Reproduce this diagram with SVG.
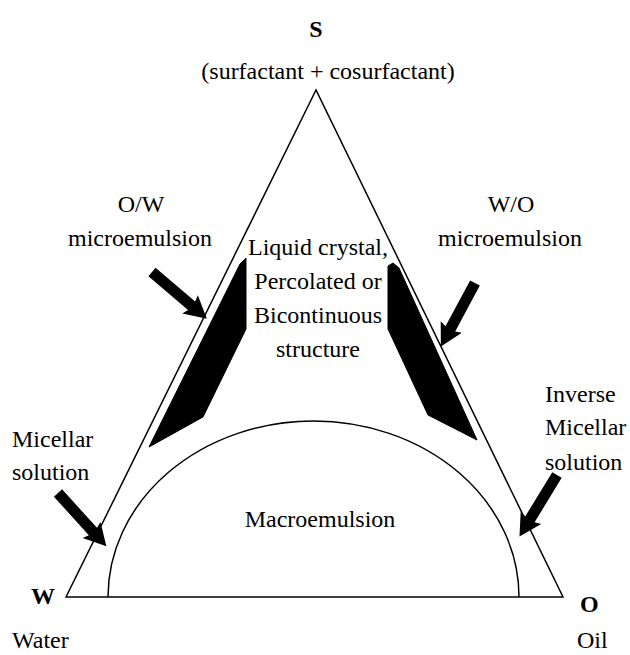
<svg xmlns="http://www.w3.org/2000/svg" xmlns:xlink="http://www.w3.org/1999/xlink" width="630" height="655" viewBox="0 0 630 655">
  <style>
    text { font-family: "Liberation Serif", "Times New Roman", serif; font-size: 24px; fill: #000; }
    .c { text-anchor: middle; }
    .b { font-weight: bold; }
    .ln { fill: none; stroke: #000; stroke-width: 1.5; }
    .blk { fill: #000; stroke: #000; stroke-width: 1; stroke-linejoin: round; }
  </style>
  <defs>
    <path id="arrow" d="M0,-5.5 L52,-5.5 L50,-12 L72,0 L50,12 L52,5.5 L0,5.5 Z" fill="#000"/>
  </defs>
  <rect width="630" height="655" fill="#fff"/>

  <g id="diagram">
    <path id="triangle" class="ln" d="M316,90 L66,597 L563,597 Z"/>
    <path id="macroemulsion-boundary" class="ln" stroke-width="1.3" d="M108,597 A205.5,176 0 0 1 519,597"/>
    <polygon id="ow-region" class="blk" points="240,264 246,258 246,329 203,417 149,447"/>
    <polygon id="wo-region" class="blk" points="393,263 399,268 477,440 428,415 388,329 388,266"/>
  </g>

  <g id="node-S">
    <text class="c b" x="316" y="37">S</text>
    <text class="c" x="328" y="79">(surfactant + cosurfactant)</text>
  </g>
  <g id="node-ow">
    <text class="c" x="141" y="212">O/W</text>
    <text class="c" x="140" y="246">microemulsion</text>
  </g>
  <g id="node-wo">
    <text class="c" x="511" y="212">W/O</text>
    <text class="c" x="510" y="246">microemulsion</text>
  </g>
  <g id="node-lc">
    <text class="c" x="318" y="255">Liquid crystal,</text>
    <text class="c" x="318" y="289">Percolated or</text>
    <text class="c" x="318" y="323">Bicontinuous</text>
    <text class="c" x="318" y="357">structure</text>
  </g>
  <g id="node-micellar">
    <text x="12" y="447">Micellar</text>
    <text x="12" y="480">solution</text>
  </g>
  <g id="node-inverse">
    <text x="545" y="402">Inverse</text>
    <text x="545" y="435">Micellar</text>
    <text x="545" y="470">solution</text>
  </g>
  <g id="node-macro">
    <text class="c" x="320" y="527">Macroemulsion</text>
  </g>
  <g id="node-W">
    <text class="b" x="31" y="604">W</text>
    <text x="12" y="648">Water</text>
  </g>
  <g id="node-O">
    <text class="b" x="580" y="612">O</text>
    <text x="577" y="648">Oil</text>
  </g>

  <g id="connectors">
    <use xlink:href="#arrow" transform="translate(152,272) rotate(40.4)"/>
    <use xlink:href="#arrow" transform="translate(475,283) rotate(118.3)"/>
    <use xlink:href="#arrow" transform="translate(58,493) rotate(47.8)"/>
    <use xlink:href="#arrow" transform="translate(557,475) rotate(121.4)"/>
  </g>
</svg>
